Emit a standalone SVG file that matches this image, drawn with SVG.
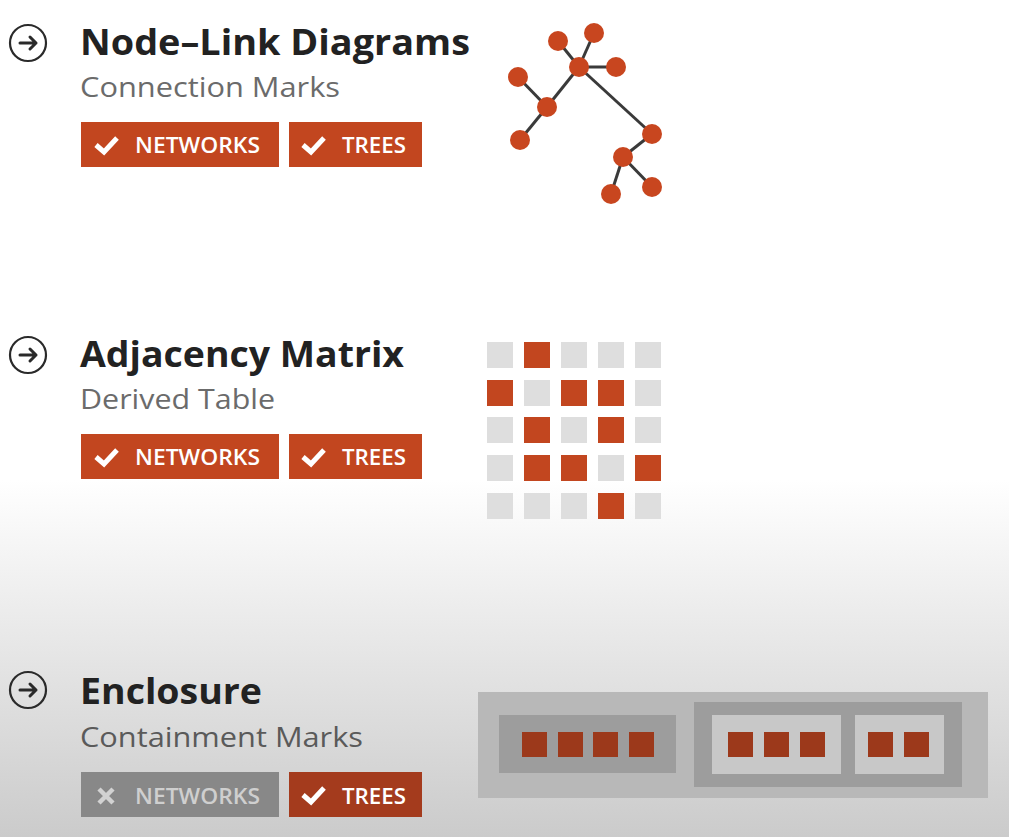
<svg xmlns="http://www.w3.org/2000/svg" width="1009" height="837" viewBox="0 0 1009 837">
<defs>
<linearGradient id="bg" gradientUnits="userSpaceOnUse" x1="0" y1="480" x2="0" y2="837">
<stop offset="0" stop-color="#ffffff"/>
<stop offset="1" stop-color="#cbcbcb"/>
</linearGradient>
<style>
.title{font-family:"Open Sans","Liberation Sans",sans-serif;font-weight:700;font-size:36px;fill:#222222}
.sub{font-family:"Open Sans","Liberation Sans",sans-serif;font-weight:400;font-size:28px;fill:#6b6b6b}
.btxt{font-family:"Open Sans","Liberation Sans",sans-serif;font-weight:600;font-size:22px;fill:#ffffff}
.badge{fill:#c2461f}
.icon circle{fill:none;stroke:#2a2a2a;stroke-width:2.2}
.icon path{fill:none;stroke:#2a2a2a;stroke-width:3;stroke-linecap:round;stroke-linejoin:round}
.check{fill:none;stroke:#ffffff;stroke-width:5;stroke-linejoin:miter;stroke-linecap:butt}
.edge{stroke:#3a3a3a;stroke-width:3}
.node{fill:#c8461f}
.cg{fill:#dedede}
.co{fill:#c2461f}
.sq{fill:#9c391b}
</style>
</defs>
<rect x="0" y="0" width="1009" height="837" fill="url(#bg)"/>

<!-- Section 1 -->
<g id="icon1" class="icon"><circle cx="28" cy="43" r="18"/><path d="M20 43H36M30 37L36 43L30 49"/></g>
<g id="title1">
<text class="title" x="80" y="55" textLength="390" lengthAdjust="spacingAndGlyphs">Node–Link Diagrams</text>
<text class="sub" x="80" y="97" textLength="260" lengthAdjust="spacingAndGlyphs">Connection Marks</text>
</g>
<g id="badge1a"><rect class="badge" x="81" y="122" width="198" height="45"/><path class="check" d="M96 145L104 152L117 138"/><text class="btxt" x="135" y="153" textLength="125" lengthAdjust="spacingAndGlyphs">NETWORKS</text></g>
<g id="badge1b"><rect class="badge" x="289" y="122" width="133" height="45"/><path class="check" d="M303 145L311 152L324 138"/><text class="btxt" x="342" y="153" textLength="64" lengthAdjust="spacingAndGlyphs">TREES</text></g>

<g id="connectors">
<line class="edge" x1="558" y1="41" x2="579" y2="67"/>
<line class="edge" x1="594" y1="33" x2="579" y2="67"/>
<line class="edge" x1="579" y1="67" x2="616" y2="67"/>
<line class="edge" x1="579" y1="67" x2="547" y2="107"/>
<line class="edge" x1="518" y1="77" x2="547" y2="107"/>
<line class="edge" x1="547" y1="107" x2="520" y2="140"/>
<line class="edge" x1="579" y1="67" x2="652" y2="134"/>
<line class="edge" x1="652" y1="134" x2="623" y2="157"/>
<line class="edge" x1="623" y1="157" x2="611" y2="194"/>
<line class="edge" x1="623" y1="157" x2="652" y2="187"/>
</g>
<g id="n1"><circle class="node" cx="558" cy="41" r="10"/></g>
<g id="n2"><circle class="node" cx="594" cy="33" r="10"/></g>
<g id="n3"><circle class="node" cx="579" cy="67" r="10"/></g>
<g id="n4"><circle class="node" cx="616" cy="67" r="10"/></g>
<g id="n5"><circle class="node" cx="518" cy="77" r="10"/></g>
<g id="n6"><circle class="node" cx="547" cy="107" r="10"/></g>
<g id="n7"><circle class="node" cx="520" cy="140" r="10"/></g>
<g id="n8"><circle class="node" cx="652" cy="134" r="10"/></g>
<g id="n9"><circle class="node" cx="623" cy="157" r="10"/></g>
<g id="n10"><circle class="node" cx="611" cy="194" r="10"/></g>
<g id="n11"><circle class="node" cx="652" cy="187" r="10"/></g>

<!-- Section 2 -->
<g id="icon2" class="icon"><circle cx="28" cy="355" r="18"/><path d="M20 355H36M30 349L36 355L30 361"/></g>
<g id="title2">
<text class="title" x="80" y="367" textLength="324" lengthAdjust="spacingAndGlyphs">Adjacency Matrix</text>
<text class="sub" x="80" y="409" textLength="195" lengthAdjust="spacingAndGlyphs">Derived Table</text>
</g>
<g id="badge2a"><rect class="badge" x="81" y="434" width="198" height="45"/><path class="check" d="M96 457L104 464L117 450"/><text class="btxt" x="135" y="465" textLength="125" lengthAdjust="spacingAndGlyphs">NETWORKS</text></g>
<g id="badge2b"><rect class="badge" x="289" y="434" width="133" height="45"/><path class="check" d="M303 457L311 464L324 450"/><text class="btxt" x="342" y="465" textLength="64" lengthAdjust="spacingAndGlyphs">TREES</text></g>

<g id="matrix">
<rect class="cg" x="487" y="342" width="26" height="26"/><rect class="co" x="524" y="342" width="26" height="26"/><rect class="cg" x="561" y="342" width="26" height="26"/><rect class="cg" x="598" y="342" width="26" height="26"/><rect class="cg" x="635" y="342" width="26" height="26"/>
<rect class="co" x="487" y="380" width="26" height="26"/><rect class="cg" x="524" y="380" width="26" height="26"/><rect class="co" x="561" y="380" width="26" height="26"/><rect class="co" x="598" y="380" width="26" height="26"/><rect class="cg" x="635" y="380" width="26" height="26"/>
<rect class="cg" x="487" y="417" width="26" height="26"/><rect class="co" x="524" y="417" width="26" height="26"/><rect class="cg" x="561" y="417" width="26" height="26"/><rect class="co" x="598" y="417" width="26" height="26"/><rect class="cg" x="635" y="417" width="26" height="26"/>
<rect class="cg" x="487" y="455" width="26" height="26"/><rect class="co" x="524" y="455" width="26" height="26"/><rect class="co" x="561" y="455" width="26" height="26"/><rect class="cg" x="598" y="455" width="26" height="26"/><rect class="co" x="635" y="455" width="26" height="26"/>
<rect class="cg" x="487" y="493" width="26" height="26"/><rect class="cg" x="524" y="493" width="26" height="26"/><rect class="cg" x="561" y="493" width="26" height="26"/><rect class="co" x="598" y="493" width="26" height="26"/><rect class="cg" x="635" y="493" width="26" height="26"/>
</g>

<!-- Section 3 -->
<g id="icon3" class="icon"><circle cx="28" cy="690" r="18"/><path d="M20 690H36M30 684L36 690L30 696"/></g>
<g id="title3">
<text class="title" x="80" y="704" textLength="182" lengthAdjust="spacingAndGlyphs">Enclosure</text>
<text class="sub" x="80" y="747" textLength="283" lengthAdjust="spacingAndGlyphs" style="fill:#5a5a5a">Containment Marks</text>
</g>
<g id="badge3a"><rect x="81" y="772" width="198" height="45" fill="#888888"/><path d="M99 789L113 803M113 789L99 803" stroke="#d2d2d2" stroke-width="4.5" fill="none"/><text class="btxt" x="135" y="804" textLength="125" lengthAdjust="spacingAndGlyphs" style="fill:#cfcfcf">NETWORKS</text></g>
<g id="badge3b"><rect x="289" y="772" width="133" height="45" fill="#a43b1d"/><path class="check" d="M303 795L311 802L324 788"/><text class="btxt" x="342" y="804" textLength="64" lengthAdjust="spacingAndGlyphs">TREES</text></g>

<g id="enclosure">
<rect x="478" y="692" width="510" height="106" fill="#b8b8b8"/>
<rect x="499" y="715" width="177" height="58" fill="#9d9d9d"/>
<rect class="sq" x="522" y="732" width="25" height="25"/><rect class="sq" x="558" y="732" width="25" height="25"/><rect class="sq" x="593" y="732" width="25" height="25"/><rect class="sq" x="629" y="732" width="25" height="25"/>
<rect x="694" y="702" width="268" height="85" fill="#9d9d9d"/>
<rect x="712" y="715" width="129" height="59" fill="#c8c8c8"/>
<rect class="sq" x="728" y="732" width="25" height="25"/><rect class="sq" x="764" y="732" width="25" height="25"/><rect class="sq" x="800" y="732" width="25" height="25"/>
<rect x="855" y="715" width="89" height="59" fill="#c8c8c8"/>
<rect class="sq" x="868" y="732" width="25" height="25"/><rect class="sq" x="904" y="732" width="25" height="25"/>
</g>
</svg>
